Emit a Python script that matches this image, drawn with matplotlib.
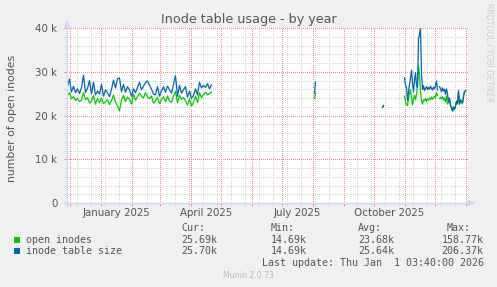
import numpy as np
import matplotlib
matplotlib.use("Agg")
import matplotlib.pyplot as plt
from matplotlib.patches import Polygon, Rectangle

# ------------------------------------------------------------------
# data: values in thousands of inodes, days counted from 2025-01-01
# ------------------------------------------------------------------
seg1_start, seg1_step = -33, 2
seg1_table = [26.6, 28.3, 25.4, 26.7, 25.2, 26.1, 25.0, 26.4, 29.2, 25.3, 26.2, 28.0,
              24.9, 27.6, 24.7, 25.6, 24.9, 27.1, 24.4, 25.9, 25.2, 24.3, 26.0, 28.1,
              26.3, 28.4, 28.6, 25.4, 27.1, 25.3, 26.6, 25.8, 24.4, 26.1, 25.2, 26.4,
              27.6, 25.9, 26.7, 27.5, 27.9, 26.9, 26.0, 24.9, 24.7, 26.6, 24.4, 25.6,
              26.6, 25.3, 26.7, 25.9, 25.1, 27.1, 29.1, 24.4, 26.9, 25.1, 25.9, 26.6,
              24.2, 25.6, 23.9, 24.6, 26.1, 24.7, 27.6, 26.3, 26.9, 26.4, 27.3, 26.1, 27.0]
seg1_open = [24.6, 25.2, 23.8, 24.3, 23.4, 23.9, 23.2, 23.5, 25.3, 23.6, 24.1, 22.8,
             23.3, 24.6, 22.6, 23.9, 22.9, 24.0, 22.7, 23.2, 23.6, 22.5, 23.4, 24.7,
             23.0, 22.2, 21.1, 23.5, 24.6, 23.2, 24.2, 23.7, 22.6, 24.9, 23.5, 24.3,
             25.1, 24.4, 24.0, 25.2, 24.3, 23.8, 24.5, 22.8, 23.4, 24.2, 22.7, 23.6,
             24.3, 23.1, 24.5, 23.3, 23.0, 24.4, 25.6, 22.9, 24.6, 23.7, 24.1, 23.3,
             22.4, 23.8, 22.1, 23.0, 24.4, 22.9, 25.2, 24.1, 24.8, 25.3, 24.7, 25.0, 25.4]

seg2_days = [214, 215]
seg2_table = [25.1, 27.7]
seg2_open = [23.9, 25.1]

seg3_days = [282, 283]
seg3_table = [21.9, 22.3]
seg3_open = [21.9, 22.2]

seg4_start = 304
seg4_table = [28.6, 26.9, 26.3, 23.5, 25.4, 27.0, 28.5, 30.4, 27.3, 25.4, 28.0, 29.8,
              27.0, 26.4, 37.6, 38.5, 39.8, 29.5, 26.0, 26.8, 25.7, 26.2, 26.6, 25.9,
              26.4, 26.0, 26.7, 26.2, 25.8, 26.5, 26.1, 26.8, 27.9, 25.8, np.nan,
              26.6, 26.2, 25.4, 26.3, 25.6, 26.0, 24.8, 26.1, 25.0, 23.2, 24.0, 22.4,
              21.9, 21.2, 22.0, 21.5, 22.2, 23.3, 22.8, 25.7, 22.7, 23.6, 23.2, 22.9,
              24.4, 25.5, 25.7]
seg4_open = [24.4, 23.2, 22.5, 22.3, 23.9, 25.0, 25.9, 24.2, 22.4, 23.8, 24.6, 23.6,
             24.8, 27.3, 31.2, 29.4, 25.6, 23.5, 22.6, 23.6, 23.4, 23.9, 23.2, 23.8,
             23.5, 24.0, 23.6, 24.2, 23.7, 24.1, 24.4, 24.0, 25.2, 24.6, np.nan,
             23.9, 24.2, 23.8, 24.3, 23.5, 24.0, 23.1, 24.5, 22.6, 23.0, 23.7, 22.2,
             21.6, 20.9, 21.8, 21.3, 22.0, 23.0, 22.6, 25.4, 22.5, 23.3, 23.0, 22.7,
             24.2, 25.3, 25.69]

base_day = np.datetime64('2025-01-01')
month_starts = np.arange('2024-12', '2026-02', dtype='datetime64[M]')
label_months = ['2025-01', '2025-04', '2025-07', '2025-10']
label_texts = ['January 2025', 'April 2025', 'July 2025', 'October 2025']
first_grid_sunday = '2024-12-08'

y_major = [0, 10, 20, 30, 40]
y_labels = ['0', '10 k', '20 k', '30 k', '40 k']
y_minor = [2, 4, 6, 8, 12, 14, 16, 18, 22, 24, 26, 28, 32, 34, 36, 38]

legend_names = ['open inodes', 'inode table size']
cur_vals = ['25.69k', '25.70k']
min_vals = ['14.69k', '14.69k']
avg_vals = ['23.68k', '25.64k']
max_vals = ['158.77k', '206.37k']

GREEN = '#00CC00'
BLUE = '#0066B3'
AXIS = '#CFD6F8'
FONT = '#555555'
MGRID = '#F08C8C'
GRID = '#D4D4D4'

W, H = 497, 287


def px(x, y):
    return (x / W, 1 - y / H)


def days(dates):
    return (np.asarray(dates, dtype='datetime64[D]') - base_day).astype(int)


fig = plt.figure(figsize=(W / 100, H / 100), dpi=100, facecolor='#F0F0F0')
ax = fig.add_axes([67 / W, 1 - 203 / H, 401 / W, 175 / H])
ax.set_facecolor('white')
for s in ax.spines.values():
    s.set_visible(False)

# series
x1 = seg1_start + seg1_step * np.arange(len(seg1_table))
x4 = seg4_start + np.arange(len(seg4_table))
for xs, o in [(x1, seg1_open), (seg2_days, seg2_open), (seg3_days, seg3_open), (x4, seg4_open)]:
    ax.plot(xs, o, color=GREEN, lw=0.9, zorder=3)
for xs, t in [(x1, seg1_table), (seg2_days, seg2_table), (seg3_days, seg3_table), (x4, seg4_table)]:
    ax.plot(xs, t, color=BLUE, lw=0.9, zorder=4)

ax.set_xlim(-33.5, 367.5)
ax.set_ylim(0, 40)

# grid: month starts / every 10k in red, fortnightly / every 2k in grey
month_days = days(month_starts)
sundays = np.arange(days([first_grid_sunday])[0], 368, 14)
ax.set_xticks(month_days)
ax.set_xticks(sundays[np.min(np.abs(sundays[:, None] - month_days[None, :]), axis=1) > 1], minor=True)
ax.set_xticklabels([])
ax.set_yticks(y_major)
ax.set_yticklabels(y_labels)
ax.set_yticks(y_minor, minor=True)
ax.set_axisbelow(True)
ax.tick_params(axis='both', which='major', length=2.5, width=0.72, color=MGRID,
               labelsize=7.4, labelcolor=FONT)
ax.tick_params(axis='both', which='minor', length=2.5, width=0.72, color=GRID)
ax.tick_params(axis='y', pad=4.5)
ax.grid(which='minor', color=GRID, lw=0.72, ls=(0, (1, 1.2)), antialiased=False)
ax.grid(which='major', color=MGRID, lw=0.72, ls=(0, (1, 1.2)), antialiased=False)

for m, lab in zip(label_months, label_texts):
    ax.text(days([m])[0] + 16, -0.028, lab, transform=ax.get_xaxis_transform(),
            ha='center', va='top', fontsize=7.4, color=FONT)

# axes with arrows
fig.add_artist(plt.Line2D([67 / W, 67 / W], [1 - 206 / H, 1 - 25 / H], color=AXIS, lw=1.0))
fig.add_artist(plt.Line2D([64 / W, 470 / W], [1 - 203 / H, 1 - 203 / H], color=AXIS, lw=1.0))
fig.add_artist(Polygon([px(64.5, 27), px(69.5, 27), px(67, 21)], closed=True,
                       transform=fig.transFigure, color=AXIS))
fig.add_artist(Polygon([px(468, 200.5), px(468, 205.5), px(474, 203)], closed=True,
                       transform=fig.transFigure, color=AXIS))

# texts
fig.text(*px(248.5, 20), 'Inode table usage - by year', ha='center', va='center',
         fontsize=9.2, color=FONT)
fig.text(*px(12, 118), 'number of open inodes', rotation=90, ha='center', va='center',
         fontsize=7.8, color=FONT)
fig.text(*px(489, 53), 'RRDTOOL / TOBI OETIKER', rotation=-90, ha='center', va='center',
         fontsize=5.6, color='#CCCCCC')
fig.text(*px(248.5, 276), 'Munin 2.0.73', ha='center', va='center', fontsize=5.6,
         color='#BBBBBB')

mono = dict(family='DejaVu Sans Mono', fontsize=7.2, color=FONT, va='center')
fig.text(*px(181.5, 228), 'Cur:', **mono)
fig.text(*px(270.5, 228), 'Min:', **mono)
fig.text(*px(358, 228), 'Avg:', **mono)
fig.text(*px(470.5, 228), 'Max:', ha='right', **mono)
rows_y = [240, 251]
for i, (name, col) in enumerate(zip(legend_names, [GREEN, BLUE])):
    y = rows_y[i]
    fig.add_artist(Rectangle(px(14, y + 3), 6 / W, 6 / H, transform=fig.transFigure,
                             color=col, lw=0))
    fig.text(*px(26.5, y), name, **mono)
    fig.text(*px(181.5, y), cur_vals[i], **mono)
    fig.text(*px(270.5, y), min_vals[i], **mono)
    fig.text(*px(358, y), avg_vals[i], **mono)
    fig.text(*px(483.5, y), max_vals[i], ha='right', **mono)
fig.text(*px(483.5, 263), 'Last update: Thu Jan  1 03:40:00 2026', ha='right', **mono)

fig.savefig('out.png', dpi=100, facecolor=fig.get_facecolor())
